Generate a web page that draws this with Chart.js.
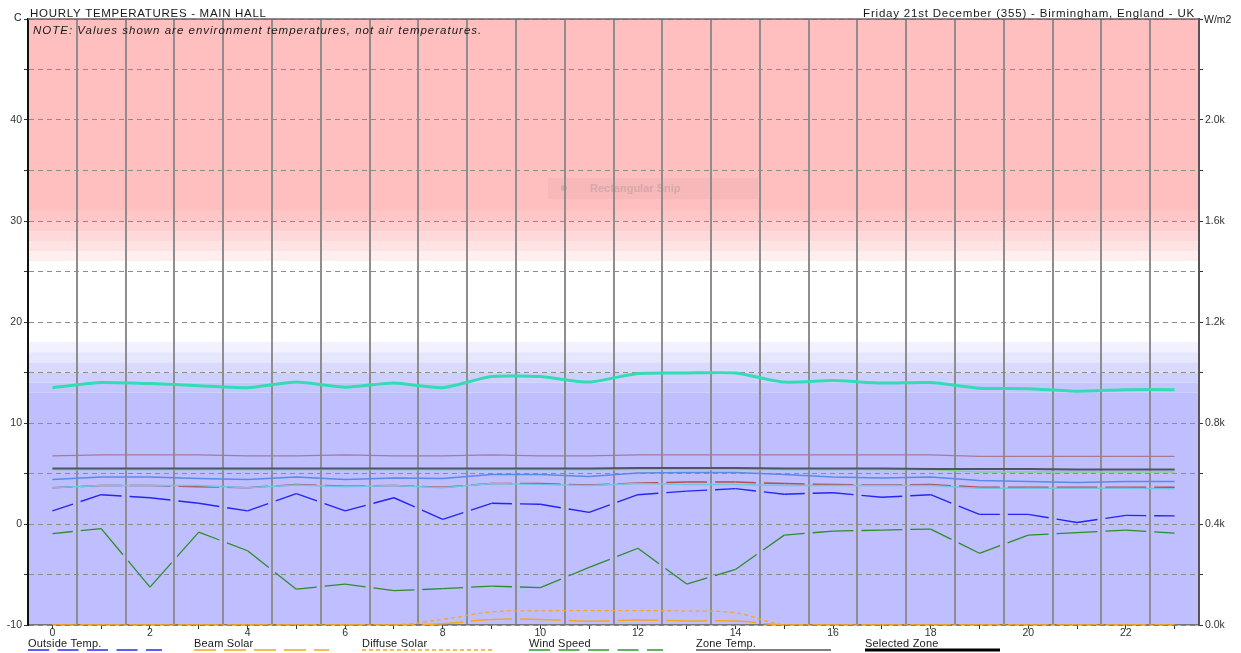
<!DOCTYPE html>
<html>
<head>
<meta charset="utf-8">
<script src="https://cdn.jsdelivr.net/npm/chart.js@4.4.0/dist/chart.umd.min.js"></script>
<style>
  html, body { margin: 0; padding: 0; background: #fff; }
  #wrap { width: 1241px; height: 653px; position: relative; }
</style>
</head>
<body>
<div id="wrap"><canvas id="chart" width="1241" height="653"></canvas></div>
<script>
// hours of the day
const hours = ['0','1','2','3','4','5','6','7','8','9','10','11','12','13','14','15','16','17','18','19','20','21','22','23'];

// temperatures (C)
const selectedZone = [13.5, 14.0, 13.9, 13.7, 13.5, 14.05, 13.55, 13.95, 13.5, 14.6, 14.6, 14.05, 14.9, 14.95, 14.95, 14.05, 14.2, 13.95, 14.0, 13.45, 13.4, 13.15, 13.3, 13.3];
const outsideTemp = [1.3, 2.9, 2.6, 2.05, 1.3, 3.0, 1.3, 2.6, 0.45, 2.05, 1.95, 1.15, 2.9, 3.25, 3.5, 2.95, 3.1, 2.65, 2.9, 0.95, 0.95, 0.15, 0.85, 0.8];
const windSpeed = [-0.95, -0.45, -6.25, -0.8, -2.65, -6.45, -5.95, -6.6, -6.4, -6.15, -6.3, -4.3, -2.4, -5.95, -4.5, -1.1, -0.7, -0.6, -0.5, -2.9, -1.1, -0.85, -0.6, -0.9];
const zoneA = [6.75, 6.85, 6.85, 6.85, 6.75, 6.75, 6.85, 6.75, 6.75, 6.85, 6.75, 6.75, 6.85, 6.85, 6.85, 6.85, 6.85, 6.85, 6.85, 6.7, 6.7, 6.7, 6.7, 6.7];
const zoneB = [5.5, 5.5, 5.5, 5.5, 5.5, 5.5, 5.5, 5.5, 5.5, 5.5, 5.5, 5.5, 5.55, 5.55, 5.55, 5.5, 5.5, 5.5, 5.45, 5.45, 5.45, 5.4, 5.4, 5.4];
const zoneC = [5.4, 5.4, 5.4, 5.4, 5.4, 5.4, 5.4, 5.4, 5.4, 5.4, 5.4, 5.4, 5.4, 5.4, 5.4, 5.4, 5.4, 5.4, 5.4, 5.15, 5.15, 5.15, 5.15, 5.15];
const zoneD = [4.4, 4.65, 4.65, 4.5, 4.4, 4.65, 4.4, 4.55, 4.5, 4.9, 4.9, 4.7, 5.05, 5.1, 5.1, 4.9, 4.65, 4.55, 4.65, 4.3, 4.2, 4.1, 4.2, 4.2];
const zoneE = [3.6, 3.8, 3.8, 3.8, 3.6, 3.85, 3.7, 3.8, 3.6, 4.0, 3.9, 3.8, 4.0, 3.9, 3.9, 3.8, 3.8, 3.8, 3.8, 3.55, 3.55, 3.55, 3.55, 3.5];
const zoneF = [3.6, 3.8, 3.8, 3.7, 3.6, 3.9, 3.75, 3.8, 3.65, 4.0, 4.0, 3.85, 4.05, 4.15, 4.15, 4.0, 3.9, 3.85, 3.9, 3.65, 3.65, 3.65, 3.65, 3.65];

// solar (W/m2)
const beamSolar = [0, 0, 0, 0, 0, 0, 0, 0, 5, 22, 22, 15, 20, 16, 16, 0, 0, 0, 0, 0, 0, 0, 0, 0];
const diffuseSolar = [0, 0, 0, 0, 0, 0, 0, 0, 22, 52, 56, 57, 57, 55, 48, 0, 0, 0, 0, 0, 0, 0, 0, 0];

// comfort bands (C edges, top to bottom)
const bandEdges = [50, 31, 30, 29, 28, 27, 26, 18, 17, 16, 15, 14, 13, -10];
const bandColours = ['#ffbfbf', '#ffc6c6', '#ffcfcf', '#ffd9d9', '#ffe3e3', '#ffeeee', '#ffffff', '#f1f1ff', '#e6e6ff', '#dadaff', '#d0d0ff', '#c6c6ff', '#bfbfff'];

const legendLabels = ['Outside Temp.', 'Beam Solar', 'Diffuse Solar', 'Wind Speed', 'Zone Temp.', 'Selected Zone'];
const legendStyle = [
  { x: 28, w: 134, color: '#2a2aff', dash: [21, 8.5], width: 1.5 },
  { x: 194, w: 135, color: '#f5a623', dash: [22, 8], width: 1.5 },
  { x: 362, w: 131, color: '#f5a623', dash: [4, 3], width: 1.5 },
  { x: 529, w: 134, color: '#2e9a2e', dash: [21, 8.5], width: 1.5 },
  { x: 696, w: 135, color: '#555', dash: [], width: 1.5 },
  { x: 865, w: 135, color: '#000', dash: [], width: 3 },
];

const FONT = "'Liberation Sans', Arial, sans-serif";

// each hourly segment gets a gap where it crosses the half-hour grid line
const gapDash = c => {
  const h = Math.hypot(c.p1.x - c.p0.x, c.p1.y - c.p0.y) / 2;
  return [Math.max(h - 4, 0), 8, Math.max(h - 4, 0), 0];
};

const bandsPlugin = {
  id: 'bands',
  beforeDraw(chart) {
    const { ctx, chartArea: a } = chart;
    const y = chart.scales.y;
    ctx.save();
    for (let i = 0; i < bandColours.length; i++) {
      const y1 = y.getPixelForValue(bandEdges[i]);
      const y2 = y.getPixelForValue(bandEdges[i + 1]);
      ctx.fillStyle = bandColours[i];
      ctx.fillRect(a.left, y1, a.right - a.left, y2 - y1);
    }
    // faint snip label left over in the screenshot
    ctx.fillStyle = 'rgba(0,0,0,0.035)';
    ctx.fillRect(548, 178, 210, 21);
    ctx.fillStyle = 'rgba(120,120,120,0.25)';
    ctx.beginPath();
    ctx.arc(564, 188, 3, 0, Math.PI * 2);
    ctx.fill();
    ctx.font = 'bold 11px ' + FONT;
    ctx.textBaseline = 'middle';
    ctx.fillText('Rectangular Snip', 590, 189);
    ctx.restore();
  }
};

const textPlugin = {
  id: 'texts',
  afterDraw(chart) {
    const { ctx, chartArea: a } = chart;
    ctx.save();
    // top frame line
    ctx.strokeStyle = '#666';
    ctx.lineWidth = 1.5;
    ctx.beginPath();
    ctx.moveTo(a.left, a.top);
    ctx.lineTo(a.right, a.top);
    ctx.stroke();

    ctx.fillStyle = '#1a1a1a';
    ctx.textBaseline = 'alphabetic';
    ctx.font = '11.5px ' + FONT;
    ctx.textAlign = 'left';
    ctx.letterSpacing = '0.7px';
    ctx.fillText('HOURLY TEMPERATURES - MAIN HALL', 30, 17);
    ctx.textAlign = 'right';
    ctx.letterSpacing = '0.8px';
    ctx.fillText('Friday 21st December (355) - Birmingham, England - UK', 1195, 17);
    ctx.textAlign = 'left';
    ctx.letterSpacing = '0px';
    ctx.font = '10.5px ' + FONT;
    ctx.fillText('C', 14, 21);
    ctx.fillText('W/m2', 1204, 23);
    ctx.font = 'italic 11.5px ' + FONT;
    ctx.letterSpacing = '1px';
    ctx.fillText('NOTE: Values shown are environment temperatures, not air temperatures.', 33, 34);

    // legend
    ctx.font = '11px ' + FONT;
    ctx.letterSpacing = '0.2px';
    legendLabels.forEach((label, i) => {
      const s = legendStyle[i];
      ctx.fillStyle = '#1a1a1a';
      ctx.fillText(label, s.x, 646.5);
      ctx.strokeStyle = s.color;
      ctx.lineWidth = s.width;
      ctx.setLineDash(s.dash);
      ctx.beginPath();
      ctx.moveTo(s.x, 650);
      ctx.lineTo(s.x + s.w, 650);
      ctx.stroke();
    });
    ctx.restore();
  }
};

function line(label, data, color, width, gapped, axis, order, tension) {
  const ds = {
    label, data,
    borderColor: color,
    backgroundColor: color,
    borderWidth: width,
    pointRadius: 0,
    fill: false,
    tension: tension || 0,
    yAxisID: axis,
    xAxisID: 'x',
    order,
  };
  if (gapped === 'gap') ds.segment = { borderDash: gapDash };
  else if (gapped) ds.borderDash = gapped;
  return ds;
}

new Chart(document.getElementById('chart'), {
  type: 'line',
  data: {
    labels: hours,
    datasets: [
      line('Selected Zone', selectedZone, '#34dcb4', 3, null, 'y', 1, 0.2),
      line('Outside Temp.', outsideTemp, '#2424f5', 1.4, 'gap', 'y', 2),
      line('Wind Speed', windSpeed, '#2e8b2e', 1.3, 'gap', 'y', 3),
      line('Zone A', zoneA, '#a87898', 1.2, null, 'y', 9),
      line('Zone B', zoneB, '#4e5468', 2, null, 'y', 5),
      line('Zone C', zoneC, '#86d286', 1.5, null, 'y', 6),
      line('Zone D', zoneD, '#5a8ae6', 1.5, null, 'y', 7),
      line('Zone F', zoneF, '#b84a4a', 1.5, 'gap', 'y', 8),
      line('Zone E', zoneE, '#6cc6e4', 1.5, null, 'y', 4),
      line('Beam Solar', beamSolar, '#f5a623', 1.5, 'gap', 'y1', 10, 0.4),
      line('Diffuse Solar', diffuseSolar, '#f5a623', 1.3, [4, 3], 'y1', 11, 0.4),
    ],
  },
  options: {
    responsive: false,
    devicePixelRatio: 1,
    animation: false,
    layout: { padding: { top: 19, left: 0, right: 0, bottom: 0 } },
    plugins: {
      legend: { display: false },
      tooltip: { enabled: false },
    },
    scales: {
      x: {
        type: 'category',
        position: 'bottom',
        offset: true,
        grid: { offset: true, color: '#8e8e8e', lineWidth: 2, drawTicks: false },
        border: { display: true, color: '#777', width: 1.5 },
        ticks: { display: false },
        afterFit(s) { s.height = 0; },
      },
      xl: {
        type: 'category',
        position: 'bottom',
        offset: true,
        grid: { offset: false, drawOnChartArea: false, drawTicks: true, tickLength: 4, tickColor: '#333' },
        border: { display: false },
        ticks: {
          color: '#333',
          font: { family: FONT, size: 10.5 },
          padding: -2,
          maxRotation: 0,
          autoSkip: false,
          callback(v, i) { return i % 2 === 0 ? hours[i] : ''; },
        },
        afterFit(s) { s.height = 28; },
      },
      y: {
        position: 'left',
        min: -10,
        max: 50,
        ticks: {
          stepSize: 5,
          color: '#333',
          font: { family: FONT, size: 10.5 },
          padding: 2,
          callback: v => (v % 10 === 0 && v < 50 ? v : ''),
        },
        grid: { color: '#8c8c8c', lineWidth: 1, tickLength: 4, tickColor: '#333' },
        border: { color: '#111', width: 2, dash: [5, 4] },
        afterFit(s) { s.width = 28; },
      },
      y1: {
        position: 'right',
        min: 0,
        max: 2400,
        ticks: {
          stepSize: 200,
          color: '#333',
          font: { family: FONT, size: 10.5 },
          padding: 2,
          callback: v => (v % 400 === 0 && v < 2400 ? (v / 1000).toFixed(1) + 'k' : ''),
        },
        grid: { drawOnChartArea: false, tickLength: 4, tickColor: '#333' },
        border: { color: '#555', width: 2 },
        afterFit(s) { s.width = 42; },
      },
    },
  },
  plugins: [bandsPlugin, textPlugin],
});
</script>
</body>
</html>
